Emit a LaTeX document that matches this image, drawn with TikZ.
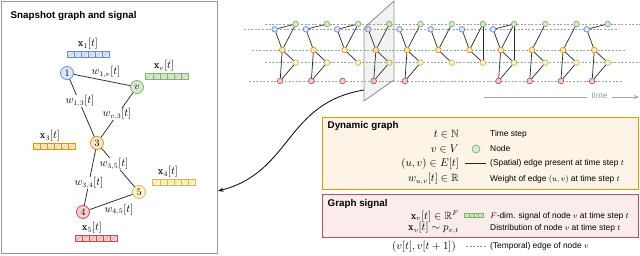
\documentclass[tikz,border=0pt]{standalone}
\usepackage{amsmath,amssymb}
\usepackage{fontspec}
\setsansfont{Liberation Sans}
\usetikzlibrary{arrows.meta,calc}
\definecolor{bluef}{HTML}{DAE8FC}\definecolor{blued}{HTML}{6C8EBF}
\definecolor{greenf}{HTML}{D5E8D4}\definecolor{greend}{HTML}{82B366}
\definecolor{orangef}{HTML}{FFE6CC}\definecolor{oranged}{HTML}{D79B00}
\definecolor{yellowf}{HTML}{FFF2CC}\definecolor{yellowd}{HTML}{D6B656}
\definecolor{redf}{HTML}{F8CECC}\definecolor{redd}{HTML}{B85450}
\definecolor{dgfill}{HTML}{FDF3E6}\definecolor{gsfill}{HTML}{FBECEC}
\tikzset{
  gnode/.style 2 args={circle, draw=#2, fill=#1, line width=0.8pt, minimum size=13pt, inner sep=0pt, font=\fontsize{10}{10}\selectfont},
  tn/.style 2 args={circle, draw=#2, fill=#1, line width=0.7pt, minimum size=5.6pt, inner sep=0pt},
  tnb/.style={tn={bluef}{blued}}, tng/.style={tn={greenf}{greend}},
  tno/.style={tn={orangef}{oranged}}, tny/.style={tn={yellowf}{yellowd}},
  tnr/.style={tn={redf}{redd}},
  gedge/.style={draw=black!85, line width=0.75pt},
  tedge/.style={draw=black!85, line width=0.7pt},
  tdash/.style={draw=gray!75, dash pattern=on 2pt off 1.6pt, line width=0.7pt},
  elabel/.style={fill=white, inner sep=0.6pt, font=\fontsize{10.5}{11}\selectfont},
  xlabel/.style={inner sep=0pt, font=\fontsize{10.5}{11}\selectfont},
  fbar/.style n args={4}{draw=#2, fill=#1, line width=0.7pt, minimum width=#3*7.1pt, minimum height=#4, inner sep=0pt,
    path picture={\foreach \kk in {1,...,#3}{
      \draw[#2, line width=0.6pt] ($(path picture bounding box.south west)!{\kk/#3}!(path picture bounding box.south east)$) -- ($(path picture bounding box.north west)!{\kk/#3}!(path picture bounding box.north east)$);
      \draw[#2, opacity=0.45, line width=0.4pt] ($(path picture bounding box.south west)!{(\kk-1)/#3}!(path picture bounding box.south east)$) -- ($(path picture bounding box.north west)!{\kk/#3}!(path picture bounding box.north east)$);
    }}},
  ptitle/.style={font=\fontsize{9.8}{11}\sffamily\bfseries, inner sep=0pt},
  lmath/.style={font=\fontsize{10.5}{11}\selectfont, inner sep=0pt},
  ltext/.style={font=\fontsize{8.4}{10}\sffamily, inner sep=0pt},
}
\begin{document}
\begin{tikzpicture}[x=1pt,y=-1pt]
\useasboundingbox (0,0) rectangle (640,256);
% ---------------- left panel ----------------
\node[draw=gray!80, line width=0.8pt, minimum width=216pt, minimum height=252pt, inner sep=0pt] (panel) at (109,127.5) {};
\node[ptitle, anchor=west] (ptl) at (10.5,16) {Snapshot graph and signal};

\node[gnode={bluef}{blued}] (n1) at (67,73) {$1$};
\node[gnode={greenf}{greend}] (nv) at (137,87) {$v$};
\node[gnode={orangef}{oranged}] (n3) at (97,143) {$3$};
\node[gnode={yellowf}{yellowd}] (n5) at (139,192) {$5$};
\node[gnode={redf}{redd}] (n4) at (83,212) {$4$};

\draw[gedge] (n1) -- (nv);
\draw[gedge] (n1) -- (n3);
\draw[gedge] (nv) -- (n3);
\draw[gedge] (n3) -- (n4);
\draw[gedge] (n3) -- (n5);
\draw[gedge] (n4) -- (n5);

\node[elabel, fill=none] (w1v) at (106,72) {$w_{1,v}[t]$};
\node[elabel] (w13) at (80,101) {$w_{1,3}[t]$};
\node[elabel] (wv3) at (117,114) {$w_{v,3}[t]$};
\node[elabel] (w35) at (114,164) {$w_{3,5}[t]$};
\node[elabel] (w34) at (89,183) {$w_{3,4}[t]$};
\node[elabel, fill=none] (w45) at (119,209.5) {$w_{4,5}[t]$};

\node[xlabel] (lx1) at (88,44) {$\mathbf{x}_1[t]$};
\node[fbar={bluef}{blued}{6}{6pt}] (bx1) at (88.5,54) {};
\node[xlabel] (lxv) at (164,66) {$\mathbf{x}_v[t]$};
\node[fbar={greenf}{greend}{6}{6pt}] (bxv) at (167,76) {};
\node[xlabel] (lx3) at (50,136) {$\mathbf{x}_3[t]$};
\node[fbar={orangef}{oranged}{6}{6pt}] (bx3) at (54.5,146) {};
\node[xlabel] (lx4) at (168,172) {$\mathbf{x}_4[t]$};
\node[fbar={yellowf}{yellowd}{6}{6pt}] (bx4) at (174,182) {};
\node[xlabel] (lx5) at (92,228) {$\mathbf{x}_5[t]$};
\node[fbar={redf}{redd}{6}{6pt}] (bx5) at (96.5,238) {};

% ---------------- timeline ----------------
\coordinate (dg1) at (265,24); \coordinate (dg2) at (640,24);
\coordinate (db1) at (244,29.3); \coordinate (db2) at (618,29.3);
\coordinate (do1) at (252,50); \coordinate (do2) at (625,50);
\coordinate (dy1) at (265,62.7); \coordinate (dy2) at (640,62.7);
\coordinate (dr1) at (249,81); \coordinate (dr2) at (623,81);
\draw[tdash] (dg1) -- (dg2);
\draw[tdash] (db1) -- (db2);
\draw[tdash] (do1) -- (do2);
\draw[tdash] (dy1) -- (dy2);
\draw[tdash] (dr1) -- (dr2);

\foreach \i in {1,...,8,11} \node[tnb] (s\i b) at ({295.7+31.2*(\i-1)-21},29.3) {};
\foreach \i in {1,...,11} \node[tng] (s\i g) at ({295.7+31.2*(\i-1)},24) {};
\foreach \i in {1,...,11} \node[tno] (s\i o) at ({295.7+31.2*(\i-1)-13.4},50) {};
\foreach \i in {1,...,11} \node[tny] (s\i y) at ({295.7+31.2*(\i-1)},62.7) {};
\foreach \i in {1,2,3,4,5,8,9,10,11} \node[tnr] (s\i r) at ({295.7+31.2*(\i-1)-15.6},81) {};

\foreach \i/\a/\b in {
  1/b/g,1/b/o,1/g/o,1/o/y,1/o/r,1/y/r,
  2/b/g,2/b/o,2/o/y,2/o/r,2/y/r,
  3/b/g,3/b/o,3/g/o,3/o/y,
  4/b/o,4/g/o,4/o/y,4/o/r,4/y/r,
  5/b/o,5/g/o,5/o/y,5/o/r,5/y/r,
  6/b/o,6/g/o,6/o/y,
  7/b/o,7/g/o,7/g/y,7/o/y,
  8/b/g,8/b/o,8/g/o,8/g/y,8/o/y,8/o/r,8/y/r,
  9/g/o,9/o/y,9/o/r,9/y/r,
  10/g/o,10/o/y,10/o/r,10/y/r,
  11/b/g,11/b/o,11/o/y,11/o/r,11/y/r}
  \draw[tedge] (s\i\a) -- (s\i\b);

% plane
\draw[draw=gray!85, line width=0.9pt, fill=gray, fill opacity=0.1] (364,28) -- (394,1) -- (394,80) -- (364,101) -- cycle;

% curved arrow
\coordinate (cs) at (364,90);
\coordinate (ce) at (218,191);
\draw[line width=0.8pt, -{Stealth[length=5.5pt,width=4pt]}] (cs) .. controls (285,103) and (292,172) .. (ce);

% time arrow
\coordinate (ts) at (484,97);
\node[ltext, text=gray!80, inner xsep=4.5pt] (time) at (599.5,96) {time};
\coordinate (te) at (639,97);
\draw[gray!70, line width=0.8pt] (ts) -- (time.west |- ts);
\draw[gray!70, line width=0.8pt, -{Stealth[length=5pt,width=4pt]}] (time.east |- te) -- (te);

% ---------------- legend ----------------
\node[draw=oranged, line width=0.9pt, fill=dgfill, minimum width=316pt, minimum height=72pt, inner sep=0pt] (dgbox) at (480,153) {};
\node[draw=redd, line width=0.9pt, fill=gsfill, minimum width=316pt, minimum height=43pt, inner sep=0pt] (gsbox) at (480,215.5) {};
\node[ptitle, anchor=west] (dgt) at (327.5,126) {Dynamic graph};
\node[ptitle, anchor=west] (gst) at (327.5,204) {Graph signal};

\node[lmath, anchor=east] (m1) at (459,134) {$t\in\mathbb{N}$};
\node[ltext, anchor=west] (d1) at (490,134) {Time step};
\node[lmath, anchor=east] (m2) at (459,149) {$v\in V$};
\node[tn={greenf}{greend}, minimum size=8pt] (lgn) at (476,149) {};
\node[ltext, anchor=west] (d2) at (490,149) {Node};
\node[lmath, anchor=east] (m3) at (459,163.3) {$(u,v)\in E[t]$};
\coordinate (le1) at (465,163.3); \coordinate (le2) at (486,163.3);
\draw[tedge] (le1) -- (le2);
\node[ltext, anchor=west] (d3) at (490,163.3) {(Spatial) edge present at time step $t$};
\node[lmath, anchor=east] (m4) at (459,179.3) {$w_{u,v}[t]\in\mathbb{R}$};
\node[ltext, anchor=west] (d4) at (490,179.3) {Weight of edge $(u,v)$ at time step $t$};

\node[lmath, anchor=east] (m5) at (459,216) {$\mathbf{x}_v[t]\in\mathbb{R}^F$};
\node[fbar={greenf}{greend}{4}{4.5pt}, minimum width=19pt] (lbar) at (474,215.5) {};
\node[ltext, anchor=west] (d5) at (490,216) {$F$-dim. signal of node $v$ at time step $t$};
\node[lmath, anchor=east] (m6) at (459,228.3) {$\mathbf{x}_v[t]\sim p_{v,t}$};
\node[ltext, anchor=west] (d6) at (490,228.3) {Distribution of node $v$ at time step $t$};

\node[lmath, anchor=east] (m7) at (456,246.7) {$(v[t],v[t+1])$};
\coordinate (ld1) at (466,246.7); \coordinate (ld2) at (487,246.7);
\draw[tdash, draw=gray!90] (ld1) -- (ld2);
\node[ltext, anchor=west] (d7) at (490,246.7) {(Temporal) edge of node $v$};
\end{tikzpicture}
\end{document}
